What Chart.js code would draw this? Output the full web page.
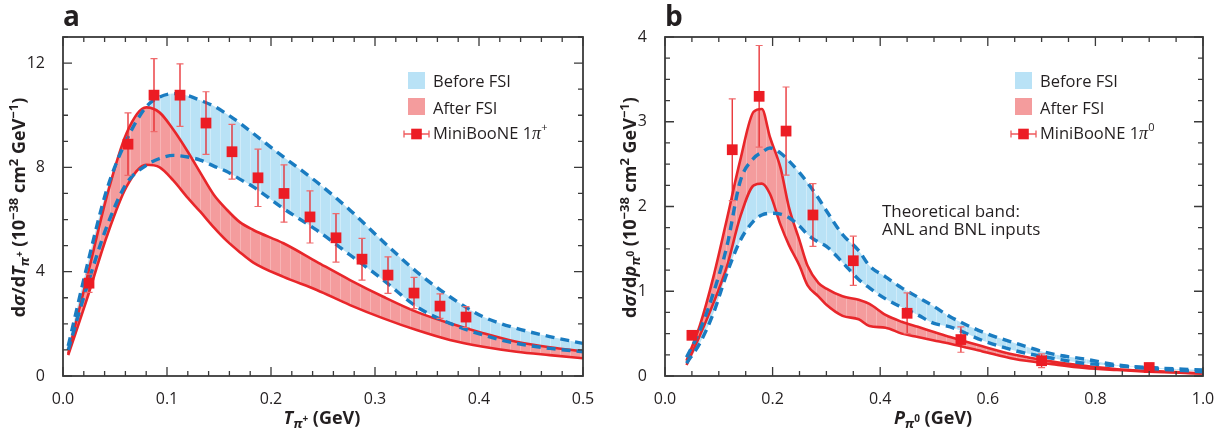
<!DOCTYPE html>
<html>
<head>
<meta charset="utf-8">
<script src="https://cdn.jsdelivr.net/npm/chart.js@4.4.1/dist/chart.umd.min.js"></script>
<style>
  html, body { margin: 0; padding: 0; background: #fff; }
  #wrap { position: relative; width: 1232px; height: 432px; }
  canvas { position: absolute; top: 0; }
  #ca { left: 0; }
  #cb { left: 616px; }
</style>
</head>
<body>
<div id="wrap">
  <canvas id="ca" width="616" height="432"></canvas>
  <canvas id="cb" width="616" height="432"></canvas>
</div>
<script>
// ---------- Panel a: dσ/dT for charged pions ----------
const tPiPlus = [0.005, 0.023, 0.042, 0.061, 0.08, 0.093, 0.106, 0.12, 0.132, 0.145, 0.157, 0.17, 0.183,
                 0.212, 0.244, 0.276, 0.308, 0.34, 0.372, 0.404, 0.436, 0.468, 0.5];
const beforeHiA = [1.15, 4.2, 7.13, 9.04, 10.32, 10.7, 10.83, 10.75, 10.57, 10.35, 10.06, 9.7, 9.3,
                   8.4, 7.44, 6.36, 5.15, 4.0, 3.04, 2.27, 1.83, 1.51, 1.25];
const beforeLoA = [1.0, 3.42, 5.72, 7.38, 8.08, 8.34, 8.46, 8.4, 8.28, 8.05, 7.85, 7.55, 7.25,
                   6.42, 5.59, 4.64, 3.68, 2.66, 2.02, 1.57, 1.25, 1.06, 0.93];
const afterHiA  = [0.85, 3.75, 6.87, 9.3, 10.3, 10.1, 9.45, 8.6, 7.8, 6.95, 6.4, 5.9, 5.6,
                   5.09, 4.38, 3.68, 3.04, 2.46, 2.02, 1.64, 1.31, 1.1, 0.95];
const afterLoA  = [0.8, 2.95, 5.34, 7.25, 8.1, 8.0, 7.5, 6.83, 6.3, 5.7, 5.2, 4.75, 4.35,
                   3.8, 3.3, 2.72, 2.21, 1.76, 1.38, 1.12, 0.93, 0.8, 0.68];
const mbXA   = [0.025, 0.0625, 0.0875, 0.1125, 0.1375, 0.1625, 0.1875, 0.2125, 0.2375, 0.2625, 0.2875, 0.3125, 0.3375, 0.3625, 0.3875];
const mbYA   = [3.56, 8.89, 10.77, 10.77, 9.7, 8.6, 7.6, 7.0, 6.1, 5.3, 4.48, 3.87, 3.18, 2.68, 2.26];
const mbErrA = [0.35, 1.2, 1.4, 1.2, 1.2, 1.05, 1.1, 1.1, 1.0, 0.93, 0.8, 0.7, 0.6, 0.47, 0.4];
const xTicksA = [0.0, 0.1, 0.2, 0.3, 0.4, 0.5];
const yTicksA = [0, 4, 8, 12];

// ---------- Panel b: dσ/dp for neutral pions ----------
const pPiZero = [0.04, 0.065, 0.09, 0.115, 0.14, 0.165, 0.18, 0.195, 0.215, 0.23, 0.25, 0.265, 0.285, 0.3,
                 0.33, 0.36, 0.38, 0.41, 0.44, 0.47, 0.5, 0.53, 0.59, 0.65, 0.72, 0.78, 0.84, 0.9, 1.0];
const beforeHiB = [0.22, 0.54, 0.98, 1.53, 2.3, 2.57, 2.64, 2.69, 2.63, 2.54, 2.4, 2.28, 2.1, 1.95,
                   1.67, 1.48, 1.3, 1.17, 1.04, 0.93, 0.82, 0.7, 0.52, 0.39, 0.26, 0.2, 0.13, 0.1, 0.07];
const beforeLoB = [0.15, 0.39, 0.74, 1.21, 1.6, 1.83, 1.9, 1.92, 1.91, 1.87, 1.77, 1.67, 1.58, 1.53,
                   1.34, 1.14, 1.04, 0.91, 0.81, 0.72, 0.62, 0.58, 0.42, 0.3, 0.21, 0.15, 0.12, 0.09, 0.05];
const afterHiB  = [0.18, 0.6, 1.17, 1.85, 2.55, 3.12, 3.15, 2.82, 2.45, 2.0, 1.6, 1.3, 1.1, 1.03,
                   0.94, 0.9, 0.85, 0.72, 0.64, 0.58, 0.52, 0.46, 0.35, 0.25, 0.17, 0.12, 0.08, 0.06, 0.03];
const afterLoB  = [0.13, 0.48, 0.86, 1.29, 1.88, 2.25, 2.27, 2.15, 1.78, 1.55, 1.3, 1.07, 0.94, 0.84,
                   0.71, 0.67, 0.59, 0.57, 0.5, 0.46, 0.42, 0.38, 0.29, 0.2, 0.14, 0.095, 0.07, 0.05, 0.03];
const mbXB   = [0.05, 0.125, 0.175, 0.225, 0.275, 0.35, 0.45, 0.55, 0.7, 0.9];
const mbYB   = [0.48, 2.67, 3.3, 2.89, 1.9, 1.36, 0.74, 0.43, 0.18, 0.1];
const mbErrB = [0.04, 0.6, 0.6, 0.52, 0.37, 0.29, 0.24, 0.15, 0.08, 0.05];
const xTicksB = [0.0, 0.2, 0.4, 0.6, 0.8, 1.0];
const yTicksB = [0, 1, 2, 3, 4];

// ---------- styling ----------
const FONT = '"Open Sans", "DejaVu Sans", sans-serif';
const INK = '#231f20';
const RED = '#e8262a';
const MARK = '#ec1c24';
const BLUE = '#1a7cc1';
const BLUE_FILL = '#b9e2f6';
const RED_FILL = '#f49c9d';

function stripePattern(base, stripe) {
  const c = document.createElement('canvas');
  c.width = 10; c.height = 4;
  const g = c.getContext('2d');
  g.fillStyle = base; g.fillRect(0, 0, 10, 4);
  g.fillStyle = stripe; g.fillRect(0, 0, 1, 4);
  return g.createPattern(c, 'repeat');
}

function pts(xs, ys) { return xs.map((x, i) => ({ x, y: ys[i] })); }

function steps(lo, hi, step) {
  const out = [];
  const n = Math.round((hi - lo) / step);
  for (let i = 0; i <= n; i++) out.push(+(lo + i * step).toFixed(6));
  return out;
}

function buildDatasets(xs, bHi, bLo, aHi, aLo, dx, dy, de) {
  const common = { pointRadius: 0, pointHoverRadius: 0, cubicInterpolationMode: 'monotone' };
  const hidden = { borderWidth: 0, borderColor: 'transparent' };
  return [
    { ...common, ...hidden, data: pts(xs, aHi), backgroundColor: stripePattern(RED_FILL, '#f7b4b5'), fill: '+1', order: 2 },
    { ...common, ...hidden, data: pts(xs, aLo), fill: false, order: 2 },
    { ...common, ...hidden, data: pts(xs, bHi), backgroundColor: stripePattern(BLUE_FILL, '#d0ebf9'), fill: '+1', order: 3 },
    { ...common, ...hidden, data: pts(xs, bLo), fill: false, order: 3 },
    { ...common, data: pts(xs, aHi), borderColor: RED, borderWidth: 2.6, fill: false, order: 1 },
    { ...common, data: pts(xs, aLo), borderColor: RED, borderWidth: 2.6, fill: false, order: 1 },
    { ...common, data: pts(xs, bHi), borderColor: BLUE, borderWidth: 3.4, borderDash: [9, 6], fill: false, order: 0 },
    { ...common, data: pts(xs, bLo), borderColor: BLUE, borderWidth: 3.4, borderDash: [9, 6], fill: false, order: 0 },
    { data: pts(dx, dy), errors: de, showLine: false, pointStyle: 'rect', pointRadius: 7.6, pointHoverRadius: 7.6,
      backgroundColor: MARK, borderWidth: 0, order: -1 }
  ];
}

// vertical error bars drawn beneath the measured points
const errorBars = {
  id: 'errorBars',
  beforeDatasetDraw(chart, args) {
    const ds = chart.data.datasets[args.index];
    if (!ds.errors) return;
    const ctx = chart.ctx, ys = chart.scales.y;
    ctx.save();
    args.meta.data.forEach((pt, i) => {
      const v = ds.data[i].y, e = ds.errors[i];
      const top = ys.getPixelForValue(v + e), bot = ys.getPixelForValue(v - e);
      ctx.strokeStyle = RED; ctx.lineWidth = 1.3;
      ctx.beginPath(); ctx.moveTo(pt.x, top); ctx.lineTo(pt.x, bot); ctx.stroke();
      ctx.strokeStyle = '#ef6b6d'; ctx.lineWidth = 1.2;
      ctx.beginPath();
      ctx.moveTo(pt.x - 3.5, top); ctx.lineTo(pt.x + 3.5, top);
      ctx.moveTo(pt.x - 3.5, bot); ctx.lineTo(pt.x + 3.5, bot);
      ctx.stroke();
    });
    ctx.restore();
  }
};

// plot frame with inward ticks on all four sides
const axisFrame = {
  id: 'axisFrame',
  afterDatasetsDraw(chart, args, o) {
    const { ctx, chartArea: a, scales: { x, y } } = chart;
    const isMajor = (v, list) => list.some(m => Math.abs(m - v) < 1e-6);
    ctx.save();
    ctx.strokeStyle = '#3a3a3a';
    ctx.lineWidth = 1.3;
    ctx.beginPath();
    for (const v of o.xMinor) {
      const px = x.getPixelForValue(v), L = isMajor(v, o.xMajor) ? 9 : 5;
      ctx.moveTo(px, a.bottom); ctx.lineTo(px, a.bottom - L);
      ctx.moveTo(px, a.top); ctx.lineTo(px, a.top + L);
    }
    for (const v of o.yMinor) {
      const py = y.getPixelForValue(v), L = isMajor(v, o.yMajor) ? 9 : 5;
      ctx.moveTo(a.left, py); ctx.lineTo(a.left + L, py);
      ctx.moveTo(a.right, py); ctx.lineTo(a.right - L, py);
    }
    ctx.stroke();
    ctx.lineWidth = 1.8;
    ctx.strokeRect(a.left, a.top, a.right - a.left, a.bottom - a.top);
    ctx.restore();
  }
};

// text made of runs with their own fonts and vertical shifts
function richWidth(ctx, runs) {
  let w = 0;
  for (const r of runs) { ctx.font = r.f; w += ctx.measureText(r.t).width; }
  return w;
}
function drawRich(ctx, runs, x, y, opts = {}) {
  ctx.save();
  ctx.translate(x, y);
  if (opts.rot) ctx.rotate(opts.rot);
  ctx.textBaseline = 'alphabetic';
  ctx.textAlign = 'left';
  ctx.fillStyle = opts.color || INK;
  let cx = opts.align === 'left' ? 0 : -richWidth(ctx, runs) / 2;
  for (const r of runs) {
    ctx.font = r.f;
    ctx.fillText(r.t, cx, r.dy || 0);
    cx += ctx.measureText(r.t).width;
  }
  ctx.restore();
}

const B18 = `bold 18px ${FONT}`, BI18 = `italic bold 18px ${FONT}`;
const B13 = `bold 13px ${FONT}`, BI13 = `italic bold 13px ${FONT}`, B10 = `bold 10px ${FONT}`;
const R17 = `16.5px ${FONT}`, PI = `italic 18px "Liberation Serif", serif`, SUP = `11px ${FONT}`;

function yTitle(sym, chargeSup) {
  return [
    { t: 'd', f: B18 }, { t: 'σ', f: BI18 }, { t: '/d', f: B18 }, { t: sym, f: BI18 },
    { t: 'π', f: BI13, dy: 4 }, { t: chargeSup, f: B10, dy: -2 },
    { t: ' (10', f: B18 }, { t: '−38', f: B13, dy: -7 }, { t: ' cm', f: B18 }, { t: '2', f: B13, dy: -7 },
    { t: ' GeV', f: B18 }, { t: '−1', f: B13, dy: -7 }, { t: ')', f: B18 }
  ];
}
function xTitle(sym, chargeSup) {
  return [
    { t: sym, f: BI18 }, { t: 'π', f: BI13, dy: 4 }, { t: chargeSup, f: B10, dy: -2 }, { t: ' (GeV)', f: B18 }
  ];
}

function decorations(cfg) {
  return {
    id: 'decorations',
    afterDraw(chart) {
      const ctx = chart.ctx;
      const a = chart.chartArea;
      // panel letter
      ctx.save();
      ctx.fillStyle = INK;
      ctx.font = `bold 28px ${FONT}`;
      ctx.textBaseline = 'alphabetic';
      ctx.fillText(cfg.letter, a.left, 26);
      ctx.restore();
      // axis titles
      drawRich(ctx, yTitle(cfg.ySym, cfg.sup), cfg.yTitleX, (a.top + a.bottom) / 2 + 1, { rot: -Math.PI / 2 });
      drawRich(ctx, xTitle(cfg.xSym, cfg.sup), (a.left + a.right) / 2 - 1, 424);
      // legend
      const L = cfg.legendX, T = cfg.legendX + 25;
      ctx.save();
      ctx.fillStyle = BLUE_FILL; ctx.fillRect(L, 72, 17, 17);
      ctx.fillStyle = RED_FILL; ctx.fillRect(L, 98, 17, 17);
      ctx.restore();
      drawRich(ctx, [{ t: 'Before FSI', f: R17 }], T, 87, { align: 'left' });
      drawRich(ctx, [{ t: 'After FSI', f: R17 }], T, 113.5, { align: 'left' });
      drawRich(ctx, [{ t: 'MiniBooNE 1', f: R17 }, { t: 'π', f: PI }, { t: cfg.sup, f: SUP, dy: -8 }], T, 139, { align: 'left' });
      const mx = L + 8.5, my = 134;
      ctx.save();
      ctx.strokeStyle = '#ef5a5c'; ctx.lineWidth = 1.3;
      ctx.beginPath();
      ctx.moveTo(mx - 12.5, my); ctx.lineTo(mx + 12.5, my);
      ctx.moveTo(mx - 12.5, my - 3.5); ctx.lineTo(mx - 12.5, my + 3.5);
      ctx.moveTo(mx + 12.5, my - 3.5); ctx.lineTo(mx + 12.5, my + 3.5);
      ctx.stroke();
      ctx.fillStyle = MARK; ctx.fillRect(mx - 5.3, my - 5.3, 10.6, 10.6);
      ctx.restore();
      // annotation
      if (cfg.note) {
        cfg.note.forEach((line, i) => drawRich(ctx, [{ t: line, f: `17px ${FONT}` }], cfg.noteX, 216.5 + i * 18, { align: 'left' }));
      }
    }
  };
}

function makeChart(id, d) {
  return new Chart(document.getElementById(id), {
    type: 'line',
    data: { datasets: buildDatasets(d.xs, d.bHi, d.bLo, d.aHi, d.aLo, d.dx, d.dy, d.de) },
    options: {
      responsive: false,
      animation: false,
      devicePixelRatio: 1,
      events: [],
      layout: { padding: { left: 0, right: d.padRight, top: 37, bottom: 0 } },
      plugins: {
        legend: { display: false },
        tooltip: { enabled: false },
        axisFrame: { xMinor: d.xMinor, xMajor: d.xTicks, yMinor: d.yMinor, yMajor: d.yTicks }
      },
      scales: {
        x: {
          type: 'linear', min: d.xMin, max: d.xMax,
          afterBuildTicks: s => { s.ticks = d.xTicks.map(v => ({ value: v })); },
          afterFit: s => { s.height = 56; },
          grid: { display: false }, border: { display: false },
          ticks: { color: INK, font: { family: FONT, size: 16 }, padding: 6, maxRotation: 0, autoSkip: false,
                   callback: v => Number(v).toFixed(1) }
        },
        y: {
          type: 'linear', min: d.yMin, max: d.yMax,
          afterBuildTicks: s => { s.ticks = d.yTicks.map(v => ({ value: v })); },
          afterFit: s => { s.width = d.yWidth; },
          grid: { display: false }, border: { display: false },
          ticks: { color: INK, font: { family: FONT, size: 16 }, padding: 10, autoSkip: false,
                   callback: v => String(v) }
        }
      }
    },
    plugins: [errorBars, axisFrame, decorations(d.deco)]
  });
}

makeChart('ca', {
  xs: tPiPlus, bHi: beforeHiA, bLo: beforeLoA, aHi: afterHiA, aLo: afterLoA,
  dx: mbXA, dy: mbYA, de: mbErrA,
  xMin: 0, xMax: 0.5, yMin: 0, yMax: 13,
  xTicks: xTicksA, yTicks: yTicksA,
  xMinor: steps(0, 0.5, 0.02), yMinor: steps(0, 13, 1),
  padRight: 33, yWidth: 63,
  deco: { letter: 'a', ySym: 'T', xSym: 'T', sup: '+', yTitleX: 25, legendX: 408 }
});

makeChart('cb', {
  xs: pPiZero, bHi: beforeHiB, bLo: beforeLoB, aHi: afterHiB, aLo: afterLoB,
  dx: mbXB, dy: mbYB, de: mbErrB,
  xMin: 0, xMax: 1.0, yMin: 0, yMax: 4,
  xTicks: xTicksB, yTicks: yTicksB,
  xMinor: steps(0, 1.0, 0.05), yMinor: steps(0, 4, 0.25),
  padRight: 29, yWidth: 49,
  deco: { letter: 'b', ySym: 'p', xSym: 'P', sup: '0', yTitleX: 19.5, legendX: 399,
          note: ['Theoretical band:', 'ANL and BNL inputs'], noteX: 266 }
});
</script>
</body>
</html>
